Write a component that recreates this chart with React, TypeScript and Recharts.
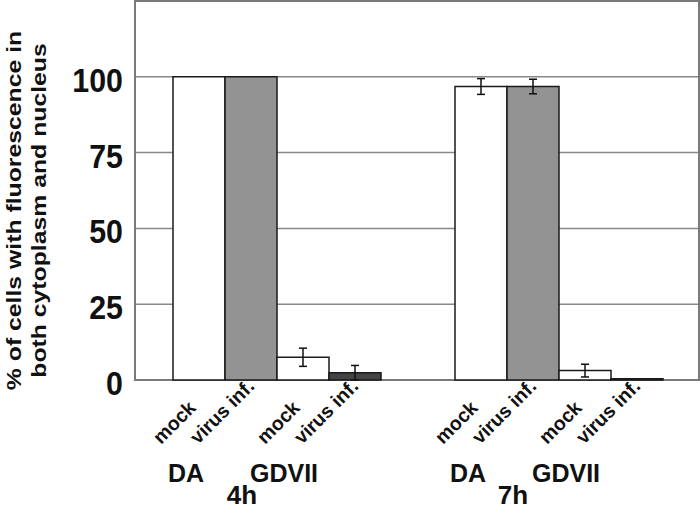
import {
  BarChart,
  Bar,
  XAxis,
  YAxis,
  CartesianGrid,
  ErrorBar,
  LabelList,
  ReferenceArea,
} from 'recharts';

const times = ['4h', '7h'];
const strains = ['DA', 'GDVII'];
const treatments = ['mock', 'virus inf.'];

const daMock = [100, 96.8];
const daMockErr = [0, 2.6];
const daVirus = [100, 96.8];
const daVirusErr = [0, 2.4];
const gdMock = [7.5, 3.1];
const gdMockErr = [3, 2.1];
const gdVirus = [2.4, 0.4];
const gdVirusErr = [2.4, 0];

const yTicks = [0, 25, 50, 75, 100];

const data = times.map((time, i) => ({
  time,
  daMock: daMock[i],
  daMockErr: daMockErr[i],
  daVirus: daVirus[i],
  daVirusErr: daVirusErr[i],
  gdMock: gdMock[i],
  gdMockErr: gdMockErr[i],
  gdVirus: gdVirus[i],
  gdVirusErr: gdVirusErr[i],
}));

const font = '"Liberation Sans", Arial, Helvetica, sans-serif';

const series = [
  { key: 'daMock', fill: '#ffffff', label: treatments[0] },
  { key: 'daVirus', fill: '#939393', label: treatments[1] },
  { key: 'gdMock', fill: '#ffffff', label: treatments[0] },
  { key: 'gdVirus', fill: '#444444', label: treatments[1] },
];

// rotated "mock" / "virus inf." under each bar
const barLabel = (text: string) => (p: any) => {
  const vb = p.viewBox ?? p;
  const x = vb.x ?? p.x;
  const y = vb.y ?? p.y;
  const w = vb.width ?? p.width;
  const h = vb.height ?? p.height;
  const cx = x + w / 2;
  const bottom = y + h;
  const ax = cx + (text === treatments[0] ? -38 : -53);
  const ay = bottom + 65;
  return (
    <text
      x={ax}
      y={ay}
      transform={`rotate(-45 ${ax} ${ay})`}
      textAnchor="start"
      fontFamily={font}
      fontWeight="bold"
      fontSize={19.5}
      fill="#111"
    >
      {text}
    </text>
  );
};

const TimeTick = ({ x, y, payload, index }: any) => (
  <g fontFamily={font} fontWeight="bold" fill="#111">
    <text x={x - 90} y={y + 102} textAnchor="middle" fontSize={25}>
      {strains[0]}
    </text>
    <text x={x + 8} y={y + 102} textAnchor="middle" fontSize={25}>
      {strains[1]}
    </text>
    <text x={x + (index === 0 ? -34 : -45)} y={y + 124} textAnchor="middle" fontSize={26}>
      {payload.value}
    </text>
  </g>
);

const ValueTick = ({ x, y, payload }: any) => (
  <g transform={`translate(${x}, ${y + 15}) scale(0.92, 1)`}>
    <text x={0} y={0} textAnchor="end" fontFamily={font} fontWeight="bold" fontSize={33} fill="#111">
      {payload.value}
    </text>
  </g>
);

const YTitle = ({ viewBox }: any) => {
  const cy = viewBox.y + viewBox.height / 2 + 20;
  return (
    <g fontFamily={font} fontWeight="bold" fontSize={24.8} fill="#111">
      <g transform={`translate(21, ${cy}) rotate(-90) scale(1, 0.83)`}>
        <text x={0} y={0} textAnchor="middle">% of cells with fluorescence in</text>
      </g>
      <g transform={`translate(46, ${cy}) rotate(-90) scale(1, 0.83)`}>
        <text x={0} y={0} textAnchor="middle">both cytoplasm and nucleus</text>
      </g>
    </g>
  );
};

export default function App() {
  return (
    <div style={{ position: 'absolute', left: 0, top: 0, background: '#fff' }}>
      <BarChart
        width={700}
        height={509}
        data={data}
        margin={{ top: 1, right: 1, left: 0, bottom: 0 }}
        barCategoryGap={38}
        barGap={0}
      >
        <CartesianGrid vertical={false} stroke="#888" strokeWidth={1.5} />
        <ReferenceArea y1={0} y2={125} fill="none" fillOpacity={0} stroke="#7a7a7a" strokeWidth={2} />
        <XAxis
          dataKey="time"
          height={129}
          axisLine={false}
          tickLine={false}
          tickSize={0}
          tickMargin={0}
          interval={0}
          tick={<TimeTick />}
        />
        <YAxis
          domain={[0, 125]}
          ticks={yTicks}
          width={135}
          axisLine={false}
          tickLine={false}
          tickSize={6}
          tickMargin={6}
          tick={<ValueTick />}
          label={<YTitle />}
        />
        {series.map((s) => (
          <Bar
            key={s.key}
            dataKey={s.key}
            fill={s.fill}
            stroke="#1a1a1a"
            strokeWidth={1.5}
            isAnimationActive={false}
          >
            <ErrorBar dataKey={`${s.key}Err`} width={4} stroke="#111" strokeWidth={1.5} direction="y" />
            <LabelList dataKey={s.key} content={barLabel(s.label)} />
          </Bar>
        ))}
      </BarChart>
    </div>
  );
}
